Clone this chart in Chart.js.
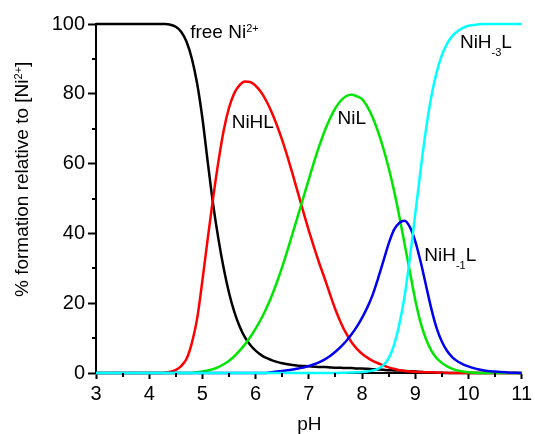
<!DOCTYPE html>
<html lang="en">
<head>
<meta charset="UTF-8">
<title>Ni(II) species distribution vs pH</title>
<script src="https://cdn.jsdelivr.net/npm/chart.js"></script>
<style>
  html, body { margin: 0; padding: 0; background: #fff; }
  canvas { display: block; }
</style>
</head>
<body>
<canvas id="speciation" width="535" height="434"></canvas>
<script>
  // pH grid, 3.0 .. 11.0 in 0.1 steps
  const pH = [
    3.0, 3.1, 3.2, 3.3, 3.4, 3.5, 3.6, 3.7, 3.8, 3.9,
    4.0, 4.1, 4.2, 4.3, 4.4, 4.5, 4.6, 4.7, 4.8, 4.9,
    5.0, 5.1, 5.2, 5.3, 5.4, 5.5, 5.6, 5.7, 5.8, 5.9,
    6.0, 6.1, 6.2, 6.3, 6.4, 6.5, 6.6, 6.7, 6.8, 6.9,
    7.0, 7.1, 7.2, 7.3, 7.4, 7.5, 7.6, 7.7, 7.8, 7.9,
    8.0, 8.1, 8.2, 8.3, 8.4, 8.5, 8.6, 8.7, 8.8, 8.9,
    9.0, 9.1, 9.2, 9.3, 9.4, 9.5, 9.6, 9.7, 9.8, 9.9,
    10.0, 10.1, 10.2, 10.3, 10.4, 10.5, 10.6, 10.7, 10.8, 10.9,
    11.0
  ];

  // % formation relative to total Ni(II)
  const freeNi = [
    100, 100, 100, 100, 100, 100, 100, 100, 100, 100,
    100, 100, 100, 100, 99.8, 99.2, 97.8, 95, 90.2, 83,
    73, 60.5, 48.5, 38.5, 30, 23, 17.5, 13.3, 10.2, 8,
    6.4, 5.2, 4.3, 3.7, 3.2, 2.8, 2.5, 2.3, 2.1, 2.0,
    1.9, 1.8, 1.7, 1.7, 1.6, 1.5, 1.5, 1.4, 1.4, 1.3,
    1.3, 1.2, 1.1, 1.0, 0.9, 0.8, 0.75, 0.7, 0.6, 0.5,
    0.4, 0.3, 0.2, 0.15, 0.1, 0.05, 0, 0, 0, 0,
    0, 0, 0, 0, 0, 0, 0, 0, 0, 0,
    0
  ];
  const niHL = [
    0, 0, 0, 0, 0, 0, 0, 0, 0, 0,
    0, 0, 0, 0.1, 0.4, 0.9, 2, 4, 8.5, 15.5,
    26.5, 38.5, 50, 60.5, 69.5, 76, 80.2, 82.5, 83.5, 83.4,
    82.3, 80.5, 78, 74.8, 71, 66.7, 61.9, 56.8, 51.4, 46,
    40.8, 35.9, 31.3, 27, 22.5, 18.2, 14.5, 11.4, 8.9, 7.0,
    5.5, 4.4, 3.5, 2.8, 2.2, 1.6, 1.2, 0.8, 0.6, 0.45,
    0.35, 0.3, 0.25, 0.2, 0.15, 0.1, 0.05, 0, 0, 0,
    0, 0, 0, 0, 0, 0, 0, 0, 0, 0,
    0
  ];
  const niL = [
    0, 0, 0, 0, 0, 0, 0, 0, 0, 0,
    0, 0, 0, 0, 0, 0, 0, 0, 0, 0.2,
    0.4, 0.7, 1.1, 1.7, 2.5, 3.5, 4.8, 6.4, 8.2, 10.3,
    12.7, 15.4, 18.5, 22.0, 26, 30.4, 35.2, 40.2, 45.3, 50.4,
    55.5, 60.6, 65.2, 69.4, 73, 75.9, 78, 79.3, 79.7, 79.3,
    78.5, 76.3, 73.2, 69.2, 64.4, 58.8, 52.4, 45, 37, 29,
    21, 14.5, 9.8, 6.5, 4.3, 2.9, 1.9, 1.2, 0.7, 0.4,
    0.2, 0.1, 0, 0, 0, 0, 0, 0, 0, 0,
    0
  ];
  const niHm1L = [
    0, 0, 0, 0, 0, 0, 0, 0, 0, 0,
    0, 0, 0, 0, 0, 0, 0, 0, 0, 0,
    0, 0, 0, 0, 0, 0, 0, 0, 0, 0,
    0, 0, 0, 0.2, 0.4, 0.6, 0.8, 1.0, 1.3, 1.6,
    2.0, 2.5, 3.1, 3.9, 4.9, 6.1, 7.5, 9.1, 11, 13.2,
    15.8, 18.8, 22.4, 27, 32, 37, 41, 43, 43.6, 41.8,
    37.8, 32, 25.3, 18.6, 13, 9, 6.3, 4.5, 3.3, 2.5,
    1.9, 1.4, 1.0, 0.7, 0.5, 0.4, 0.3, 0.2, 0.1, 0.05,
    0
  ];
  const niHm3L = [
    0, 0, 0, 0, 0, 0, 0, 0, 0, 0,
    0, 0, 0, 0, 0, 0, 0, 0, 0, 0,
    0, 0, 0, 0, 0, 0, 0, 0, 0, 0,
    0, 0, 0, 0, 0, 0, 0, 0, 0, 0,
    0, 0, 0, 0, 0, 0, 0.05, 0.1, 0.15, 0.2,
    0.3, 0.45, 0.7, 1.2, 2.2, 4.2, 7.9, 13.8, 22, 33,
    45.5, 58, 69.5, 79, 86, 91, 94.4, 96.6, 98, 98.9,
    99.5, 99.7, 99.9, 100, 100, 100, 100, 100, 100, 100,
    100
  ];

  const xTicks = [3, 4, 5, 6, 7, 8, 9, 10, 11];
  const xMinor = [3.5, 4.5, 5.5, 6.5, 7.5, 8.5, 9.5, 10.5];
  const yTicks = [0, 20, 40, 60, 80, 100];
  const yMinor = [10, 30, 50, 70, 90];

  // curve labels: anchor in data units, text runs (normal / sup / sub)
  const speciesLabels = [
    { x: 4.77, y: 96.0, runs: [['free Ni'], ['2+', 'sup']] },
    { x: 5.55, y: 70.2, runs: [['NiHL']] },
    { x: 7.54, y: 71.3, runs: [['NiL']] },
    { x: 9.84, y: 93.0, runs: [['NiH'], ['-3', 'sub'], ['L']] },
    { x: 9.17, y: 32.1, runs: [['NiH'], ['-1', 'sub'], ['L']] }
  ];

  const FONT = '"Liberation Sans", Arial, Helvetica, sans-serif';

  function series(values) {
    return values.map((v, i) => ({ x: pH[i], y: v }));
  }

  function drawRuns(ctx, runs, x, y, size) {
    let cx = x;
    runs.forEach(([t, kind]) => {
      let dy = 0;
      if (kind === 'sup') { ctx.font = (size * 0.58) + 'px ' + FONT; dy = -size * 0.3; }
      else if (kind === 'sub') { ctx.font = (size * 0.58) + 'px ' + FONT; dy = size * 0.4; }
      else ctx.font = size + 'px ' + FONT;
      ctx.fillText(t, cx, y + dy);
      cx += ctx.measureText(t).width;
    });
  }

  const decorations = {
    id: 'decorations',
    afterDraw(chart) {
      const ctx = chart.ctx;
      const xs = chart.scales.x, ys = chart.scales.y;
      ctx.save();
      ctx.strokeStyle = '#000';
      ctx.fillStyle = '#000';
      ctx.lineWidth = 2;

      // minor ticks
      ctx.beginPath();
      xMinor.forEach(v => {
        const px = Math.round(xs.getPixelForValue(v));
        ctx.moveTo(px, ys.bottom);
        ctx.lineTo(px, ys.bottom + 4);
      });
      yMinor.forEach(v => {
        const py = Math.round(ys.getPixelForValue(v));
        ctx.moveTo(xs.left, py);
        ctx.lineTo(xs.left - 4, py);
      });
      ctx.stroke();

      // species labels
      ctx.textAlign = 'left';
      ctx.textBaseline = 'alphabetic';
      speciesLabels.forEach(l => {
        drawRuns(ctx, l.runs, xs.getPixelForValue(l.x), ys.getPixelForValue(l.y), 19);
      });

      // axis titles
      ctx.font = '19px ' + FONT;
      ctx.textAlign = 'center';
      ctx.fillText('pH', (xs.left + xs.right) / 2 + 0.5, 430);

      ctx.textAlign = 'left';
      ctx.translate(28, 297);
      ctx.rotate(-Math.PI / 2);
      drawRuns(ctx, [['% formation relative to [Ni'], ['2+', 'sup'], [']']], 0, 0, 19);
      ctx.restore();
    }
  };

  const lineStyle = { borderWidth: 2.5, pointRadius: 0, cubicInterpolationMode: 'monotone', clip: false };

  new Chart(document.getElementById('speciation'), {
    type: 'line',
    data: {
      datasets: [
        { label: 'free Ni2+', data: series(freeNi), borderColor: '#000000', order: 5, ...lineStyle },
        { label: 'NiHL', data: series(niHL), borderColor: '#ff0000', order: 4, ...lineStyle },
        { label: 'NiL', data: series(niL), borderColor: '#00e600', order: 3, ...lineStyle },
        { label: 'NiH-1L', data: series(niHm1L), borderColor: '#0000ee', order: 2, ...lineStyle },
        { label: 'NiH-3L', data: series(niHm3L), borderColor: '#00ffff', order: 1, ...lineStyle }
      ]
    },
    options: {
      responsive: false,
      animation: false,
      layout: { autoPadding: false, padding: { top: 24, right: 10, left: 0, bottom: 0 } },
      plugins: { legend: { display: false }, tooltip: { enabled: false } },
      scales: {
        x: {
          type: 'linear',
          min: 3, max: 11,
          afterFit: s => { s.height = 61; },
          afterBuildTicks: s => { s.ticks = xTicks.map(v => ({ value: v })); },
          border: { display: true, color: '#000', width: 2 },
          grid: { drawOnChartArea: false, drawTicks: true, tickLength: 6, tickColor: '#000', tickWidth: 2 },
          ticks: { color: '#000', padding: 3, maxRotation: 0, font: { size: 20, family: FONT } }
        },
        y: {
          min: 0, max: 100,
          afterFit: s => { s.width = 96; },
          afterBuildTicks: s => { s.ticks = yTicks.map(v => ({ value: v })); },
          border: { display: true, color: '#000', width: 2 },
          grid: { drawOnChartArea: false, drawTicks: true, tickLength: 8, tickColor: '#000', tickWidth: 2 },
          ticks: { color: '#000', padding: 3, font: { size: 20, family: FONT } }
        }
      }
    },
    plugins: [decorations]
  });
</script>
</body>
</html>
